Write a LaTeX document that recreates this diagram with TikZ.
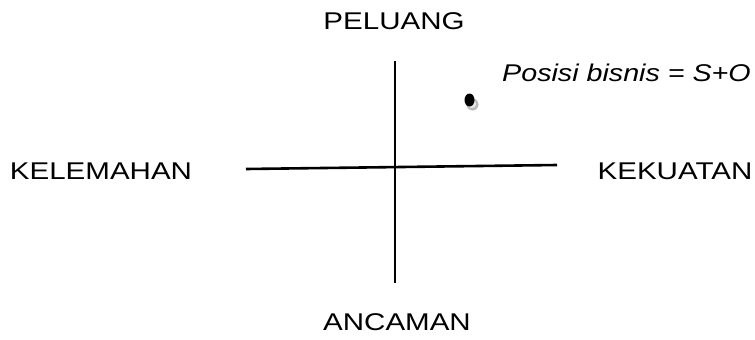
\documentclass[tikz,border=0pt]{standalone}
\usepackage{fontspec}
\setmainfont{Liberation Sans}
\begin{document}
\begin{tikzpicture}[x=1pt,y=-1pt,
  lbl/.style={inner sep=0pt,anchor=base,font=\fontsize{24.2}{29}\selectfont},
  axis/.style={line width=2.6pt,black}]
\useasboundingbox (0,0) rectangle (755,340);
\node[lbl] (p) at (394,29) {\scalebox{1.22}[1]{PELUANG}};
\node[lbl] (a) at (397,330) {\scalebox{1.22}[1]{ANCAMAN}};
\node[lbl] (w) at (101,179) {\scalebox{1.22}[1]{KELEMAHAN}};
\node[lbl] (s) at (675,179) {\scalebox{1.22}[1]{KEKUATAN}};
\node[lbl,anchor=base west] (t) at (502,81) {\scalebox{1.185}[1]{\itshape Posisi bisnis = S+O}};
\coordinate (vt) at (395,61);
\coordinate (vb) at (395,283);
\coordinate (hl) at (246,169);
\coordinate (hr) at (557,165);
\draw[axis] (vt) -- (vb);
\draw[axis] (hl) -- (hr);
\fill[gray!55] (472.5,104.5) circle (6);
\fill[gray!20] (472,104) circle (4.2);
\fill[black] (469.5,100) ellipse (5 and 6.5);
\end{tikzpicture}
\end{document}
